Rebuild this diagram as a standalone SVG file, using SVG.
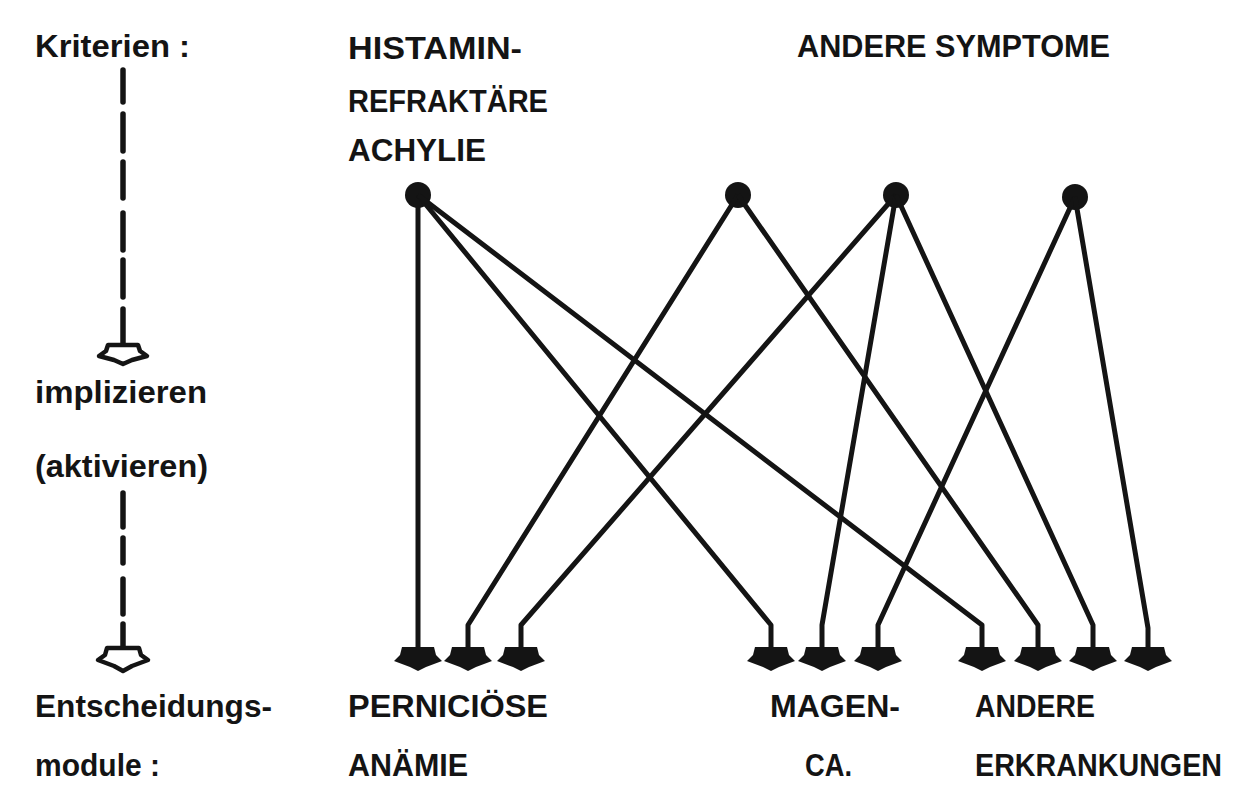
<svg xmlns="http://www.w3.org/2000/svg" width="1252" height="792" viewBox="0 0 1252 792">
<defs>
<style>
text{font-family:"Liberation Sans",Arial,sans-serif;font-weight:bold;font-size:31px;fill:#141414}
.c{fill:none;stroke:#141414;stroke-width:5;stroke-linejoin:round}
.d{stroke:#141414;stroke-width:5.5;stroke-linecap:round}
.dot{fill:#141414}
.open{fill:#fff;stroke:#141414;stroke-width:4.5;stroke-linejoin:round}
</style>
<path id="ah" d="M-16,0 L16,0 L18,8 L24,14 L8,20 L0,24 L-8,20 L-24,14 L-18,8 Z" fill="#141414"/>
</defs>
<rect width="1252" height="792" fill="#fff"/>

<g id="legend">
<text x="35" y="57" textLength="155" lengthAdjust="spacingAndGlyphs">Kriterien :</text>
<line class="d" x1="123" y1="70" x2="123" y2="102"/>
<line class="d" x1="123" y1="114" x2="123" y2="151"/>
<line class="d" x1="123" y1="162" x2="123" y2="198"/>
<line class="d" x1="123" y1="213" x2="123" y2="250"/>
<line class="d" x1="123" y1="260" x2="123" y2="297"/>
<line class="d" x1="123" y1="309" x2="123" y2="345"/>
<path class="open" d="M108,345 L138,345 L140,351 L147,356 L132,360 L123,364 L114,360 L99,356 L106,351 Z"/>
<text x="35" y="403" textLength="172" lengthAdjust="spacingAndGlyphs">implizieren</text>
<text x="35" y="477" textLength="173" lengthAdjust="spacingAndGlyphs">(aktivieren)</text>
<line class="d" x1="123" y1="493" x2="123" y2="527"/>
<line class="d" x1="123" y1="538" x2="123" y2="563"/>
<line class="d" x1="123" y1="579" x2="123" y2="614"/>
<line class="d" x1="123" y1="624" x2="123" y2="648"/>
<path class="open" d="M107,648 L139,648 L141,655 L148,660 L132,666 L123,671 L114,666 L98,660 L105,655 Z"/>
<text x="35" y="717" textLength="237" lengthAdjust="spacingAndGlyphs">Entscheidungs-</text>
<text x="35" y="776" textLength="125" lengthAdjust="spacingAndGlyphs">module :</text>
</g>

<g id="criterion-histamin">
<text x="348" y="59" textLength="174" lengthAdjust="spacingAndGlyphs">HISTAMIN-</text>
<text x="348" y="112" textLength="200" lengthAdjust="spacingAndGlyphs">REFRAKTÄRE</text>
<text x="348" y="161" textLength="138" lengthAdjust="spacingAndGlyphs">ACHYLIE</text>
<circle class="dot" cx="418" cy="195" r="13"/>
</g>

<g id="criteria-andere">
<text x="797" y="57" textLength="313" lengthAdjust="spacingAndGlyphs">ANDERE SYMPTOME</text>
<circle class="dot" cx="738" cy="195" r="13"/>
<circle class="dot" cx="896" cy="195" r="13"/>
<circle class="dot" cx="1075" cy="197" r="13"/>
</g>

<g id="connectors">
<path class="c" d="M418,195 L418,648"/>
<path class="c" d="M418,195 L771,625 L771,648"/>
<path class="c" d="M418,195 L982,625 L982,648"/>
<path class="c" d="M738,195 L468,625 L468,648"/>
<path class="c" d="M738,195 L1038,625 L1038,648"/>
<path class="c" d="M896,195 L521,625 L521,648"/>
<path class="c" d="M896,195 L822,625 L822,648"/>
<path class="c" d="M896,195 L1093,625 L1093,648"/>
<path class="c" d="M1075,197 L878,625 L878,648"/>
<path class="c" d="M1075,197 L1148,628 L1148,648"/>
<use href="#ah" x="418" y="647"/>
<use href="#ah" x="468" y="647"/>
<use href="#ah" x="521" y="647"/>
<use href="#ah" x="771" y="647"/>
<use href="#ah" x="822" y="647"/>
<use href="#ah" x="878" y="647"/>
<use href="#ah" x="982" y="647"/>
<use href="#ah" x="1038" y="647"/>
<use href="#ah" x="1093" y="647"/>
<use href="#ah" x="1148" y="647"/>
</g>

<g id="module-pa">
<text x="348" y="717" textLength="200" lengthAdjust="spacingAndGlyphs">PERNICIÖSE</text>
<text x="348" y="776" textLength="120" lengthAdjust="spacingAndGlyphs">ANÄMIE</text>
</g>
<g id="module-magen">
<text x="770" y="717" textLength="130" lengthAdjust="spacingAndGlyphs">MAGEN-</text>
<text x="805" y="776" textLength="47" lengthAdjust="spacingAndGlyphs">CA.</text>
</g>
<g id="module-andere">
<text x="975" y="717" textLength="120" lengthAdjust="spacingAndGlyphs">ANDERE</text>
<text x="975" y="776" textLength="247" lengthAdjust="spacingAndGlyphs">ERKRANKUNGEN</text>
</g>
</svg>
